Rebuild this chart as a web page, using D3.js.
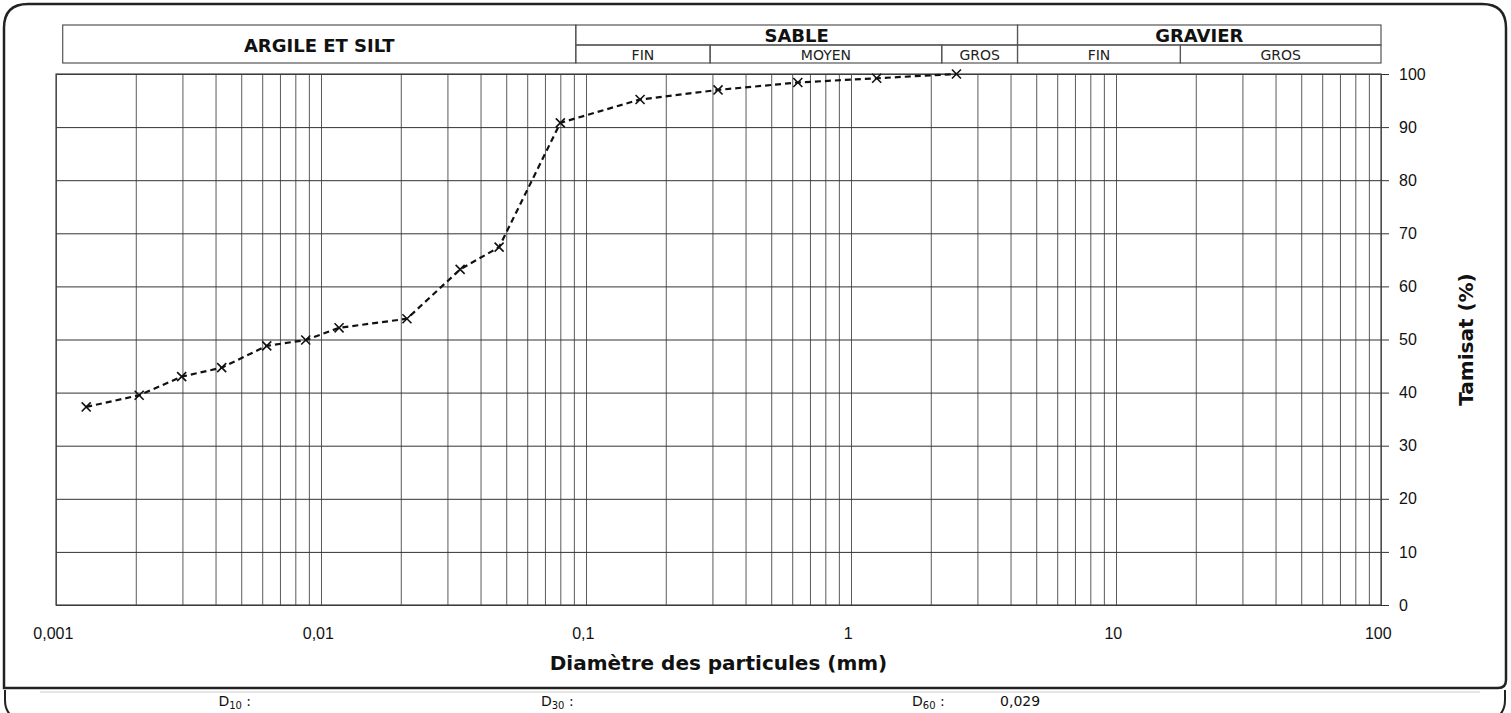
<!DOCTYPE html>
<html>
<head>
<meta charset="utf-8">
<script src="https://cdn.jsdelivr.net/npm/d3@7"></script>
<style>
	body { margin: 0; background: #fff; }
	svg { display: block; font-family: "DejaVu Sans", Verdana, sans-serif; }
	.grid-v line { stroke: #5a5a5a; stroke-width: 1; }
	.grid-h line { stroke: #333; stroke-width: 1; }
	.tick text { fill: #111; font-size: 16px; }
	.box { fill: none; stroke: #555; stroke-width: 1.2; }
</style>
</head>
<body>
<script>
// passing sieve / sedimentometry results
const diameters = [0.0013, 0.00206, 0.00298, 0.00422, 0.00624, 0.00876, 0.0117, 0.0211, 0.0335, 0.047, 0.08, 0.16, 0.315, 0.63, 1.25, 2.5];
const passing   = [37.3, 39.5, 43.0, 44.7, 48.8, 49.9, 52.2, 53.9, 63.2, 67.4, 90.8, 95.2, 97.0, 98.4, 99.2, 100];

const yTicks = [0, 10, 20, 30, 40, 50, 60, 70, 80, 90, 100];
const decades = [0.001, 0.01, 0.1, 1, 10, 100];

// soil classes along the top (limits in mm)
const mainClasses = [
	{ name: 'ARGILE ET SILT', from: 0.00106, to: 0.0915, rows: 2 },
	{ name: 'SABLE', from: 0.0915, to: 4.25, rows: 1 },
	{ name: 'GRAVIER', from: 4.25, to: 100, rows: 1 }
];
const subClasses = [
	{ name: 'FIN', from: 0.0915, to: 0.294 },
	{ name: 'MOYEN', from: 0.294, to: 2.2 },
	{ name: 'GROS', from: 2.2, to: 4.25 },
	{ name: 'FIN', from: 4.25, to: 17.5 },
	{ name: 'GROS', from: 17.5, to: 100 }
];

// characteristic diameters printed under the chart
const dLabels = [
	{ sub: '10', value: '', at: 0.0041 },
	{ sub: '30', value: '', at: 0.0676 },
	{ sub: '60', value: '0,029', at: 1.7 }
];

const width = 1511, height = 713;
const pLeft = 56, pRight = 1381, pTop = 74, pBottom = 605;

const x = d3.scaleLog().domain([0.001, 100]).range([pLeft, pRight]);
const y = d3.scaleLinear().domain([0, 100]).range([pBottom, pTop]);

const svg = d3.select('body').append('svg')
	.attr('width', width)
	.attr('height', height);

// outer frame
const r = 24;
svg.append('path')
	.attr('d', `M4,688 L4,${4 + r} Q4,4 ${4 + r},4 L${1506 - r},4 Q1506,4 1506,${4 + r} L1506,680 Q1506,688 1498,688 Z`)
	.attr('fill', 'none').attr('stroke', '#222').attr('stroke-width', 2.5);
svg.append('path')
	.attr('d', `M5,690 L5,700 Q5,716 20,720 M1505,690 L1505,700 Q1505,716 1490,720`)
	.attr('fill', 'none').attr('stroke', '#222').attr('stroke-width', 2);
svg.append('line').attr('x1', 40).attr('x2', 1480).attr('y1', 692).attr('y2', 692)
	.attr('stroke', '#ccc').attr('stroke-width', 1);

// vertical log grid
const gridVals = [];
decades.slice(0, -1).forEach(d => { for (let k = 1; k < 10; k++) gridVals.push(k * d); });
gridVals.push(100);

const xAxis = d3.axisBottom(x)
	.tickValues(gridVals)
	.tickSize(-(pBottom - pTop))
	.tickFormat(d => decades.includes(+d.toPrecision(3)) ? String(+d.toPrecision(3)).replace('.', ',') : '');

const gx = svg.append('g')
	.attr('class', 'grid-v')
	.attr('transform', `translate(0,${pBottom})`)
	.call(xAxis);
gx.select('.domain').remove();
gx.selectAll('.tick text').attr('dy', '1.95em').attr('dx', '-0.2em');

// horizontal grid + right labels
const yAxis = d3.axisRight(y)
	.tickValues(yTicks)
	.tickSizeInner(-(pRight + 8 - pLeft))
	.tickSizeOuter(0)
	.tickPadding(10);

const gy = svg.append('g')
	.attr('class', 'grid-h')
	.attr('transform', `translate(${pRight + 8},0)`)
	.call(yAxis);
gy.select('.domain').remove();

// plot frame
svg.append('rect')
	.attr('x', pLeft).attr('y', pTop)
	.attr('width', pRight - pLeft).attr('height', pBottom - pTop)
	.attr('fill', 'none').attr('stroke', '#444').attr('stroke-width', 1.2);

// class header
const hTop = 25, hMid = 45, hBot = 63;
const head = svg.append('g');

head.selectAll('rect.main')
	.data(mainClasses)
	.join('rect')
	.attr('class', 'box')
	.attr('x', d => x(d.from))
	.attr('y', hTop)
	.attr('width', d => x(d.to) - x(d.from))
	.attr('height', d => d.rows === 2 ? hBot - hTop : hMid - hTop);

head.selectAll('text.main')
	.data(mainClasses)
	.join('text')
	.attr('x', d => (x(d.from) + x(d.to)) / 2)
	.attr('y', d => d.rows === 2 ? 52 : 42)
	.attr('text-anchor', 'middle')
	.attr('font-weight', 'bold')
	.attr('font-size', 18)
	.attr('fill', '#111')
	.text(d => d.name);

head.selectAll('rect.sub')
	.data(subClasses)
	.join('rect')
	.attr('class', 'box')
	.attr('x', d => x(d.from))
	.attr('y', hMid)
	.attr('width', d => x(d.to) - x(d.from))
	.attr('height', hBot - hMid);

head.selectAll('text.sub')
	.data(subClasses)
	.join('text')
	.attr('x', d => (x(d.from) + x(d.to)) / 2)
	.attr('y', 60)
	.attr('text-anchor', 'middle')
	.attr('font-size', 14)
	.attr('fill', '#222')
	.text(d => d.name);

// curve
const points = diameters.map((d, i) => [d, passing[i]]);

svg.append('path')
	.datum(points)
	.attr('fill', 'none')
	.attr('stroke', '#111')
	.attr('stroke-width', 2.2)
	.attr('stroke-dasharray', '6,4')
	.attr('d', d3.line().x(d => x(d[0])).y(d => y(d[1])));

svg.selectAll('path.mark')
	.data(points)
	.join('path')
	.attr('class', 'mark')
	.attr('transform', d => `translate(${x(d[0])},${y(d[1])})`)
	.attr('d', d3.symbol(d3.symbolX, 55))
	.attr('fill', 'none')
	.attr('stroke', '#111')
	.attr('stroke-width', 1.6);

// axis titles
svg.append('text')
	.attr('x', (x(0.1) + x(1)) / 2)
	.attr('y', 670)
	.attr('text-anchor', 'middle')
	.attr('font-weight', 'bold')
	.attr('font-size', 20)
	.attr('fill', '#111')
	.text('Diamètre des particules (mm)');

svg.append('text')
	.attr('transform', `translate(1473,${y(50)}) rotate(-90)`)
	.attr('text-anchor', 'middle')
	.attr('font-weight', 'bold')
	.attr('font-size', 20)
	.attr('fill', '#111')
	.text('Tamisat (%)');

// D10 / D30 / D60 line
const dl = svg.selectAll('g.dl')
	.data(dLabels)
	.join('g')
	.attr('transform', d => `translate(${x(d.at)},706)`);

const dt = dl.append('text').attr('font-size', 14).attr('fill', '#111');
dt.append('tspan').text('D');
dt.append('tspan').attr('font-size', 10).attr('dy', 3).text(d => d.sub);
dt.append('tspan').attr('dy', -3).text(' :');

dl.append('text')
	.attr('x', 88)
	.attr('font-size', 14)
	.attr('fill', '#111')
	.text(d => d.value);
</script>
</body>
</html>
